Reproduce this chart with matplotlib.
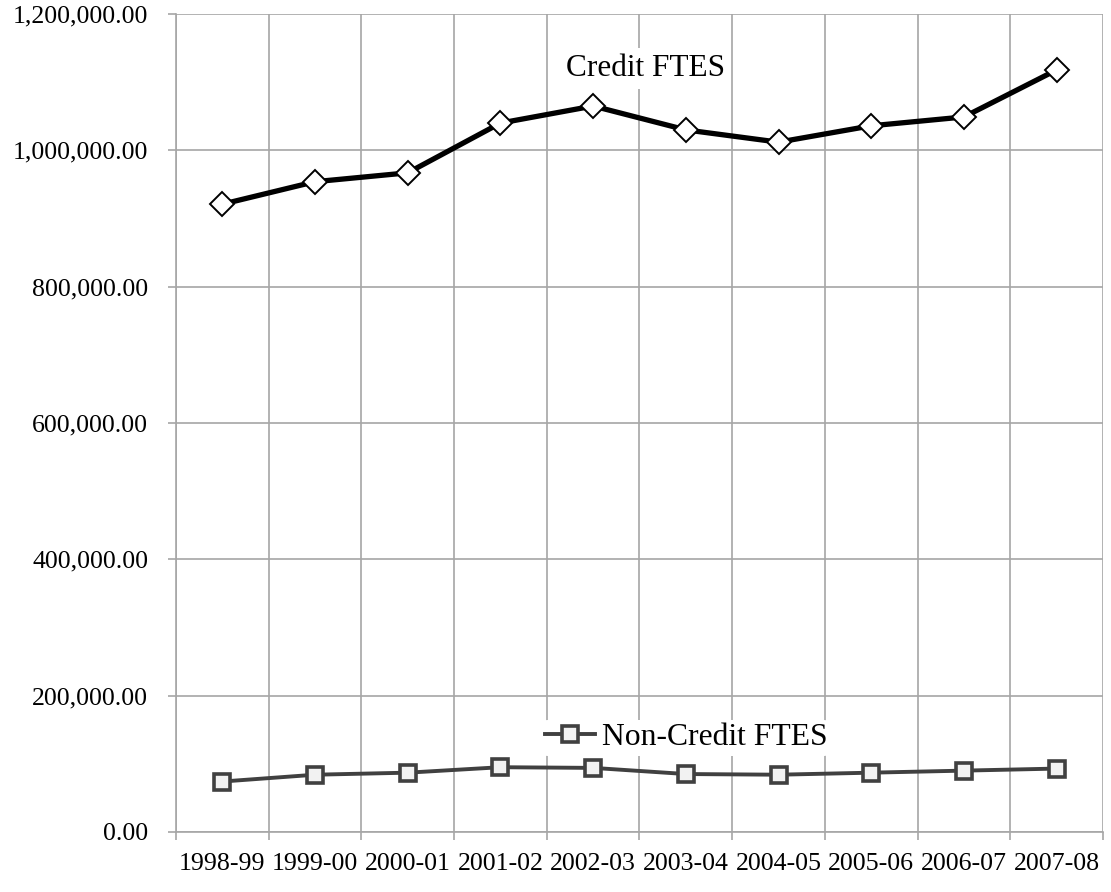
import numpy as np
import matplotlib.pyplot as plt
from matplotlib.ticker import FuncFormatter
from matplotlib.lines import Line2D

# 数据
years = ['1998-99', '1999-00', '2000-01', '2001-02', '2002-03',
         '2003-04', '2004-05', '2005-06', '2006-07', '2007-08']
credit_ftes = [921000, 954000, 967000, 1040000, 1065000,
               1030000, 1012000, 1036000, 1049000, 1118000]
noncredit_ftes = [74000, 84000, 87000, 95000, 94000,
                  85000, 84000, 87000, 90000, 93000]

plt.rcParams['font.family'] = ['Liberation Serif', 'DejaVu Serif']

fig = plt.figure(figsize=(11.11, 8.92), dpi=100)
ax = fig.add_axes([0.1584, 0.0673, 0.8344, 0.917])

x = np.arange(len(years))
grid_c = '#a6a6a6'

ax.plot(x, credit_ftes, color='black', lw=3.8, marker='D', ms=12,
        mfc='white', mec='black', mew=1.4, zorder=3)
ax.plot(x, noncredit_ftes, color='#404040', lw=2.8, marker='s', ms=11,
        mfc='#f2f2f2', mec='#404040', mew=2.6, zorder=3)

ax.set_xlim(-0.5, len(years) - 0.5)
ax.set_ylim(0, 1200000)
ax.set_yticks(np.arange(0, 1200001, 200000))
ax.yaxis.set_major_formatter(FuncFormatter(lambda v, p: f'{v:,.2f}'))

ax.set_xticks(x)
ax.set_xticklabels(years)
ax.set_xticks(np.arange(-0.5, len(years)), minor=True)

ax.tick_params(axis='x', which='major', length=0, labelsize=18.6, pad=15)
ax.tick_params(axis='x', which='minor', length=6, color=grid_c, width=1.2)
ax.tick_params(axis='y', which='major', length=6, color=grid_c, width=1.2,
               labelsize=18.6, pad=14)

ax.grid(True, axis='y', which='major', color=grid_c, lw=1.2)
ax.grid(True, axis='x', which='minor', color=grid_c, lw=1.2)
ax.set_axisbelow(True)

for s in ['top', 'right']:
    ax.spines[s].set_visible(False)
for s in ['left', 'bottom']:
    ax.spines[s].set_color(grid_c)
    ax.spines[s].set_linewidth(1.2)

# 系列标签
ax.text(4.57, 1120000, 'Credit FTES', fontsize=22.5, ha='center', va='center',
        bbox=dict(facecolor='white', edgecolor='none', pad=4), zorder=4)

key = Line2D([], [], color='#404040', lw=2.8, marker='s', ms=11,
             mfc='#f2f2f2', mec='#404040', mew=2.6)
leg = ax.legend([key], ['Non-Credit FTES'], loc='center', bbox_to_anchor=(0.55, 0.115),
                frameon=True, framealpha=1, edgecolor='none', fontsize=22.8,
                handlelength=1.6, handletextpad=0.2, borderpad=0.1)
leg.get_frame().set_facecolor('white')

fig.savefig('out.png', dpi=100)
